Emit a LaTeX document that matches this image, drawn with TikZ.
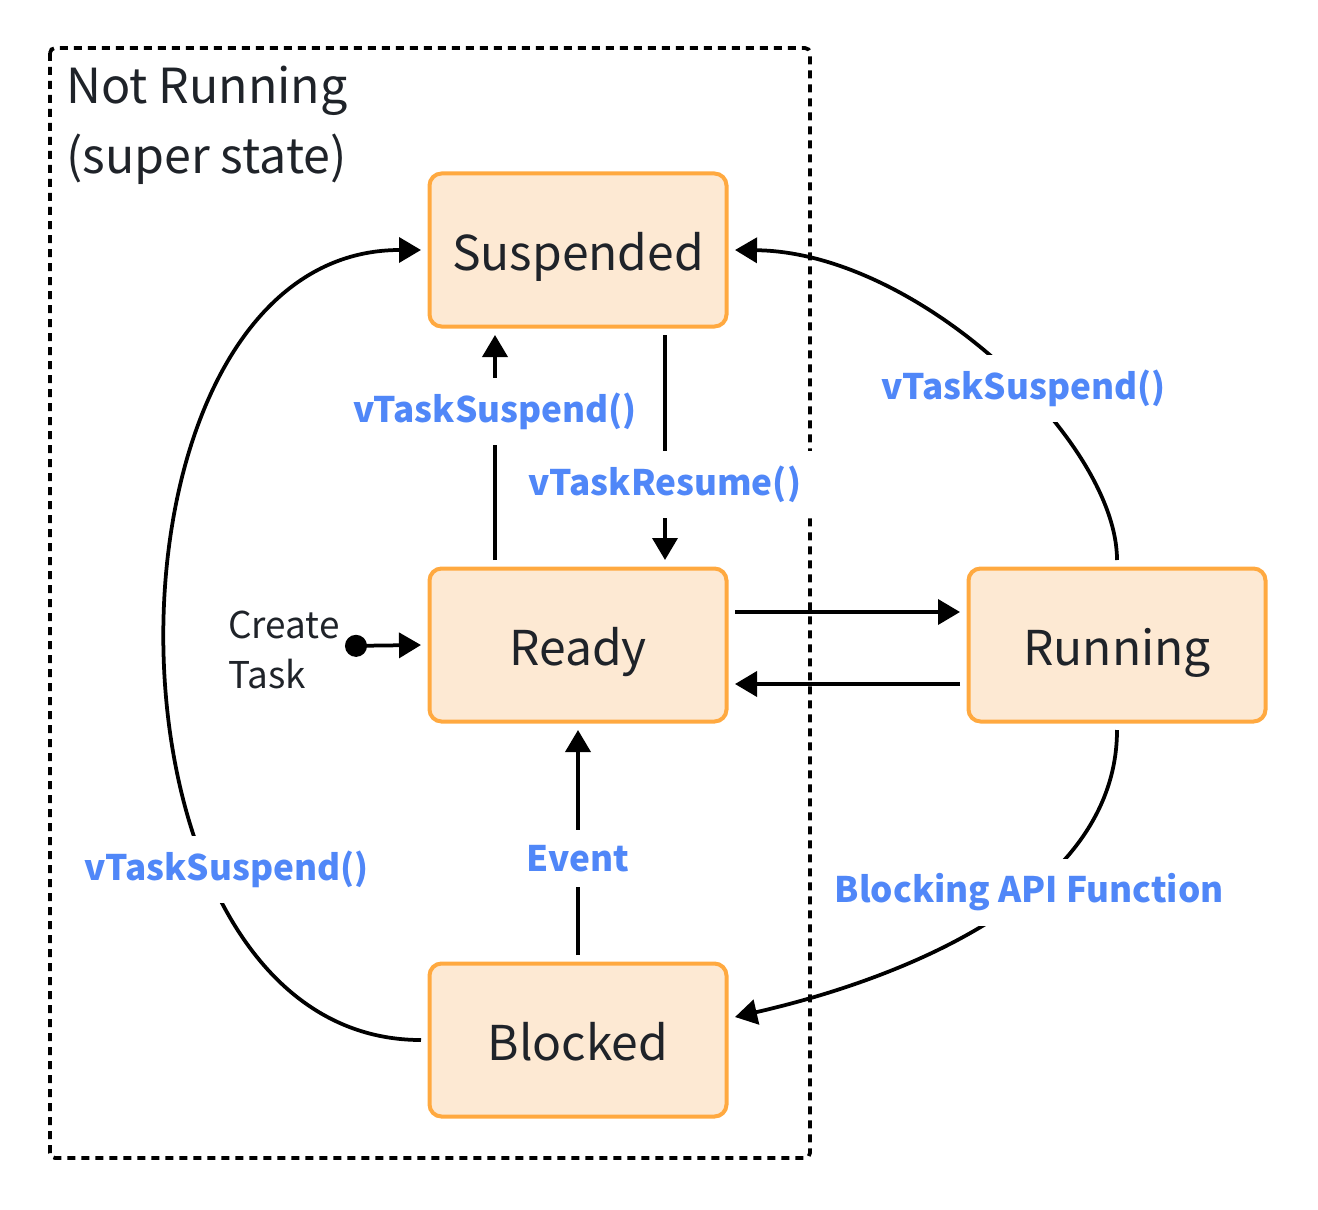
\documentclass[tikz,border=0pt]{standalone}
\usepackage{fontspec}
\setmainfont{Noto Sans CJK SC}
\usepackage{tikz}
\usetikzlibrary{positioning,arrows.meta}

\definecolor{boxfill}{HTML}{FDE9D3}
\definecolor{boxline}{HTML}{FFA940}
\definecolor{callblue}{HTML}{5087F8}
\definecolor{ink}{HTML}{1F2329}

\begin{document}
\begin{tikzpicture}[x=0.2mm, y=-0.2mm, node distance=7.9cm,
    state/.style={draw=boxline, fill=boxfill, line width=0.8mm, rounded corners=2.4mm,
        minimum width=59.4mm, minimum height=30.6mm, outer sep=1.7mm,
        text height=27.8pt, text depth=5pt,
        text=ink, font=\fontsize{27.3}{33}\selectfont},
    call/.style={fill=white, text=callblue, inner sep=3mm, font=\bfseries\fontsize{20}{24}\selectfont},
    trans/.style={line width=0.75mm, -{Triangle[length=4.4mm, width=5mm]}}]
    \useasboundingbox (0,0) rectangle (1318,1210);

    % super state frame
    \draw[line width=0.75mm, dash pattern=on 1.6mm off 1.2mm, rounded corners=1mm] (50,48) rectangle (810,1158);
    \node[anchor=north west, align=left, inner sep=0, text=ink, font=\fontsize{27.5}{39.5}\selectfont] (super) at (66,66)
        {Not Running\\(super state)};

    % states
    \node[state] (suspended) at (578,250) {Suspended};
    \node[state, below of=suspended] (ready) {Ready};
    \node[state, below of=ready] (blocked) {Blocked};
    \node[state, right of=ready, node distance=10.78cm] (running) {Running};

    % task creation
    \coordinate (init) at (345,646);
    \node[anchor=west, align=left, inner sep=0, text=ink, font=\fontsize{21}{28.5}\selectfont] (create) at (228,650)
        {Create\\Task};
    \draw[line width=0.75mm, {Circle[length=4.4mm]}-{Triangle[length=4.4mm, width=5mm]}] (init) -- (ready.west);

    % transitions
    \draw[trans] ([xshift=-16.6mm]ready.north) -- node[call, pos=0.66] {vTaskSuspend()} ([xshift=-16.6mm]suspended.south);
    \draw[trans] ([xshift=17.4mm]suspended.south) -- node[call, pos=0.665] {vTaskResume()} ([xshift=17.4mm]ready.north);
    \draw[trans] ([yshift=6.6mm]ready.east) -- ([yshift=6.6mm]running.west);
    \draw[trans] ([yshift=-7.8mm]running.west) -- ([yshift=-7.8mm]ready.east);
    \draw[trans] (blocked.north) -- node[call, pos=0.43] {Event} (ready.south);
    \draw[trans] (running.north) .. controls +(0,-118) and +(183,2) .. node[call, pos=0.43] {vTaskSuspend()} (suspended.east);
    \draw[trans] (running.south) .. controls +(0,167) and +(162,-37) .. node[call, pos=0.4] {Blocking API Function} ([yshift=4.6mm]blocked.east);
    \draw[trans] (blocked.west) .. controls +(-340,0) and +(-340,0) .. node[call, pos=0.3, xshift=4mm] {vTaskSuspend()} (suspended.west);
\end{tikzpicture}
\end{document}
